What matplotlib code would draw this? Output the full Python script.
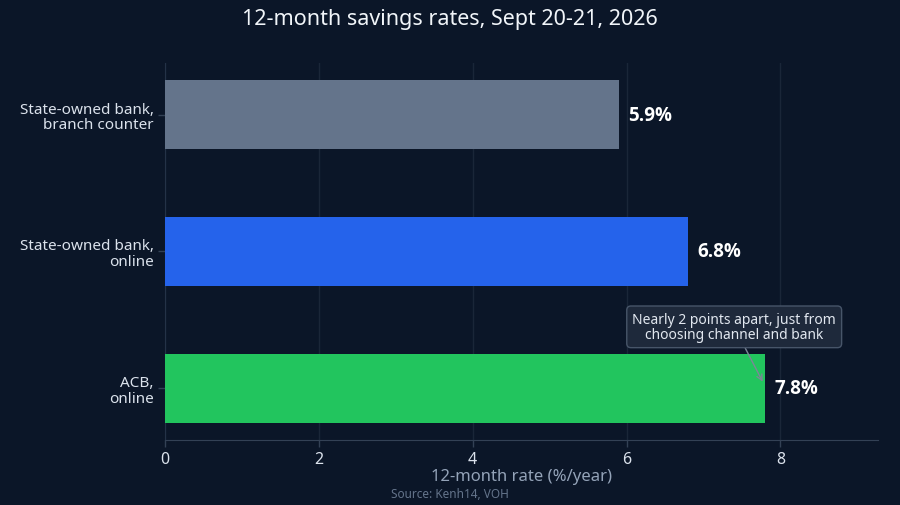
import numpy as np
import matplotlib
matplotlib.use('Agg')
import matplotlib.pyplot as plt

plt.rcParams['font.family'] = ['Noto Sans', 'DejaVu Sans']

# data
labels = ['State-owned bank,\nbranch counter', 'State-owned bank,\nonline', 'ACB,\nonline']
rates = [5.9, 6.8, 7.8]
colors = ['#64748b', '#2563eb', '#22c55e']
xticks = [0, 2, 4, 6, 8]
title = '12-month savings rates, Sept 20-21, 2026'
note = 'Nearly 2 points apart, just from\nchoosing channel and bank'

bg = '#0b1628'
fig = plt.figure(figsize=(9, 5.06), dpi=100, facecolor=bg)
ax = fig.add_axes([0.1833, 0.1285, 0.7923, 0.745])
ax.set_facecolor(bg)

yy = np.arange(len(rates))
ax.barh(yy, rates, height=0.5, color=colors, zorder=3)
for y, v in zip(yy, rates):
    ax.text(v + 0.12, y, '{}%'.format(v), va='center', ha='left',
            color='white', fontsize=13.5, fontweight='bold',
            family=['Open Sans', 'DejaVu Sans'], zorder=4)

ax.set_ylim(2.376, -0.376)
ax.set_xlim(0, 9.27)
ax.set_yticks(yy)
ax.set_yticklabels(labels, fontsize=11, color='#dbe2ec', linespacing=1.05)
ax.set_xticks(xticks)
ax.set_xticklabels([str(t) for t in xticks], fontsize=11.5, color='#dbe2ec')
ax.tick_params(axis='both', colors='#334155', length=5, width=1)
ax.tick_params(axis='x', labelcolor='#dbe2ec', pad=3)
ax.tick_params(axis='y', labelcolor='#dbe2ec', pad=3)
ax.grid(axis='x', color='#1a2638', linewidth=1, zorder=0)
for s in ['top', 'right']:
    ax.spines[s].set_visible(False)
ax.spines['left'].set_color('#243247')
ax.spines['bottom'].set_color('#334155')
ax.set_xlabel('12-month rate (%/year)', fontsize=12, color='#94a3b8', labelpad=1)

ax.annotate(note, xy=(rates[2] - 0.03, 1.95), xytext=(7.4, 1.55),
            ha='center', va='center', fontsize=10, color='#e2e8f0',
            linespacing=1.05,
            bbox=dict(boxstyle='round,pad=0.4,rounding_size=0.3',
                      fc='#1e293b', ec='#475569', lw=1),
            arrowprops=dict(arrowstyle='->', color='#7c8797', lw=1,
                            shrinkA=0, shrinkB=0),
            zorder=5)

fig.text(0.5, 0.962, title, ha='center', va='center', fontsize=15.5, color='#f1f5f9')
fig.text(0.5, 0.022, 'Source: Kenh14, VOH', ha='center', va='center',
         fontsize=8.5, color='#64748b')

fig.savefig('out.png', dpi=100, facecolor=bg)
